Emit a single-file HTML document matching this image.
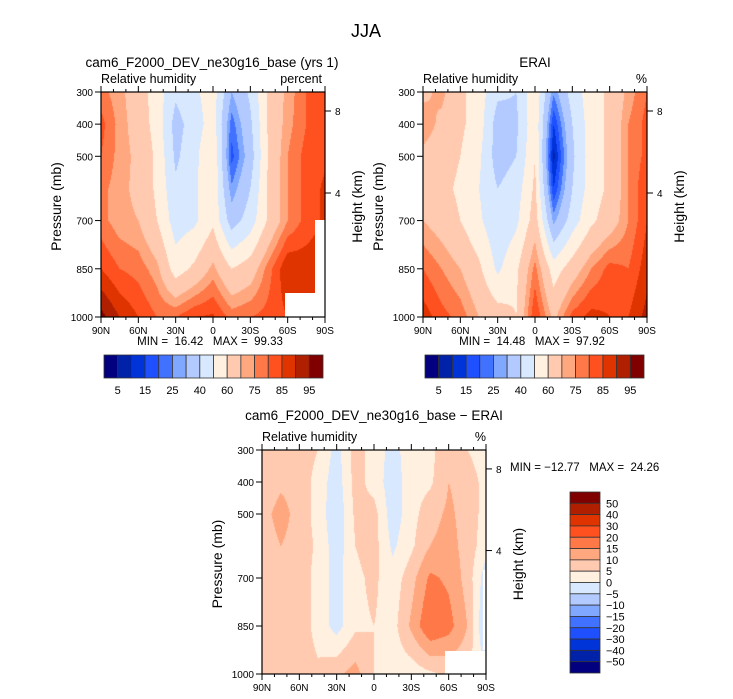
<!DOCTYPE html>
<html><head><meta charset="utf-8">
<style>
body{margin:0;background:#fff;}
#root{position:relative;width:733px;height:699px;overflow:hidden;font-family:"Liberation Sans",sans-serif;color:#000;}
svg text{font-family:"Liberation Sans",sans-serif;white-space:pre;}
</style></head>
<body>
<div id="root">
<svg id="svg" width="733" height="699" xmlns="http://www.w3.org/2000/svg">
<text x="366" y="37" font-size="18" text-anchor="middle">JJA</text>
</svg>
</div>
<script>
// ---- data ----
const latLabels = ["90N","60N","30N","0","30S","60S","90S"];
const pressureTicks = [300,400,500,700,850,1000];
const heightTicks = [8,4];
const gridPressures = [300,400,500,600,700,850,1000];
const rhLevels = [5,10,15,20,25,30,40,50,60,70,75,80,85,90,95];
const rhLabels = ["5","15","25","40","60","75","85","95"];
const diffLevels = [-50,-40,-30,-20,-15,-10,-5,0,5,10,15,20,30,40,50];
const diffLabels = ["50","40","30","20","15","10","5","0","\u22125","\u221210","\u221215","\u221220","\u221230","\u221240","\u221250"];
const modelRH = [
 [77,72,65,55,42,48,55,30,42,62,72,80,82],
 [82,73,66,56,36,45,55,22,38,62,73,80,82],
 [80,73,68,58,38,47,60,18,35,62,75,82,84],
 [77,72,68,58,42,48,58,26,40,62,75,82,86],
 [77,72,70,60,45,48,58,35,45,62,75,82,86],
 [85,80,78,72,55,62,72,60,65,78,90,88,88],
 [97,90,85,80,80,85,86,78,80,82,85,85,88]];
const eraRH = [
 [68,72,62,55,42,40,58,26,45,55,62,72,80],
 [74,68,62,55,35,38,58,15,40,55,62,75,82],
 [68,65,60,52,35,40,60,8,38,55,62,75,82],
 [66,63,58,50,40,45,62,15,40,55,62,75,85],
 [70,66,60,52,42,48,65,28,45,58,65,75,85],
 [80,75,70,62,48,58,77,55,65,75,82,80,88],
 [88,82,78,70,65,60,85,68,82,87,85,85,92]];
const diffRH = [
 [5,6,8,5,-2,7,3,-2,3,3,10,5,2],
 [6,9,8,3,-3,7,3,-3,3,4,10,8,3],
 [8,12,8,3,-4,6,7,-3,3,8,11,8,3],
 [7,10,8,4,-3,5,7,-1,4,10,12,8,2],
 [6,9,8,3,-2,4,6,2,8,16,14,8,-3],
 [8,9,8,3,-2,4,5,3,11,20,17,10,-6],
 [8,8,8,6,9,12,5,2,2,4,6,6,0]];
const palette = ["#02007e","#0022a8","#0034d8","#1e50ff","#4072ff","#80a8ff","#b2caff","#d8e8ff","#fff0e0","#ffcab0","#ffa880","#ff7848","#ff5020","#e03400","#b02000","#800000"];

const NS="http://www.w3.org/2000/svg";
const svg=document.getElementById('svg');
function mk(tag,attrs,parent){const e=document.createElementNS(NS,tag);for(const k in attrs)e.setAttribute(k,attrs[k]);(parent||svg).appendChild(e);return e;}
function txt(x,y,s,size,anchor,name,rot){const t=mk('text',{x:x,y:y,'font-size':size,'text-anchor':anchor||'start'});if(rot)t.setAttribute('transform','rotate(-90 '+x+' '+y+')');t.textContent=s;


return t;}

function interp(grid,latIdx,p){
  let r=0;while(r<gridPressures.length-2&&p>gridPressures[r+1])r++;
  const fy=(p-gridPressures[r])/(gridPressures[r+1]-gridPressures[r]);
  const c=Math.min(Math.floor(latIdx),11);const fx=latIdx-c;
  const a=grid[r][c],b=grid[r][c+1],d=grid[r+1][c],e=grid[r+1][c+1];
  return (a*(1-fx)+b*fx)*(1-fy)+(d*(1-fx)+e*fx)*fy;
}
function colorIdx(v,levels){let i=0;while(i<levels.length&&v>=levels[i])i++;return i;}

function panel(name,x0,y0,w,h,grid,levels,masks){
  const g=mk('g',{});
  
  
  const cv=document.createElement('canvas');cv.width=w;cv.height=h;const ctx=cv.getContext('2d');
  const img=ctx.createImageData(w,h);
  const rgb=palette.map(c=>[parseInt(c.substr(1,2),16),parseInt(c.substr(3,2),16),parseInt(c.substr(5,2),16)]);
  for(let j=0;j<h;j++){const p=300+700*(j+0.5)/h;
    for(let i=0;i<w;i++){const li=12*(i+0.5)/w;const v=interp(grid,li,p);const c=rgb[colorIdx(v,levels)];
      const k=(j*w+i)*4;img.data[k]=c[0];img.data[k+1]=c[1];img.data[k+2]=c[2];img.data[k+3]=255;}}
  ctx.putImageData(img,0,0);
  const fo=mk('foreignObject',{x:x0,y:y0,width:w,height:h},g);
  cv.style.display='block';fo.appendChild(cv);
  masks.forEach(m=>{const r=mk('rect',{x:x0+m[0],y:y0+m[1],width:m[2],height:m[3],fill:'#fff'},g);
    
    });
  mk('rect',{x:x0,y:y0,width:w,height:h,fill:'none',stroke:'#000','stroke-width':1.2},g);
  for(let k=0;k<=18;k++){const x=x0+w*k/18;const major=k%3==0;
    mk('line',{x1:x,y1:y0+h,x2:x,y2:y0+h+(major?6:3),stroke:'#000'},g);
    mk('line',{x1:x,y1:y0,x2:x,y2:y0-(major?6:3),stroke:'#000'},g);}
  latLabels.forEach((s,k)=>txt(x0+w*k/6,y0+h+17,s,10,'middle','x-tick-label'));
  pressureTicks.forEach(p=>{const y=y0+h*(p-300)/700;
    mk('line',{x1:x0,y1:y,x2:x0-6,y2:y,stroke:'#000'},g);
    txt(x0-8,y+4,String(p),10,'end','y-tick-label');});
  heightTicks.forEach((hk,i)=>{const y=y0+[19,101][i]*h/225;
    mk('line',{x1:x0+w,y1:y,x2:x0+w+6,y2:y,stroke:'#000'},g);
    txt(x0+w+10,y+4,String(hk),10,'start','height-tick-label');});
  txt(x0-40,y0+h/2+2,'Pressure (mb)',14,'middle','y-axis-title',true);
  txt(x0+w+37,y0+h/2+2,'Height (km)',14,'middle','height-axis-title',true);
}

function hbar(name,x0,y0,w,h){
  const g=mk('g',{});
  const bw=w/palette.length;
  palette.forEach((c,i)=>{const r=mk('rect',{x:x0+i*bw,y:y0,width:bw,height:h,fill:c,stroke:'#333','stroke-width':0.8},g);
    });
  rhLabels.forEach((s,i)=>txt(x0+bw*(2*i+1),y0+h+16,s,11,'middle','colorbar-label'));
}
function vbar(name,x0,y0,w,h){
  const g=mk('g',{});
  const bh=h/palette.length;
  palette.slice().reverse().forEach((c,i)=>{const r=mk('rect',{x:x0,y:y0+i*bh,width:w,height:bh,fill:c,stroke:'#333','stroke-width':0.8},g);
    });
  diffLabels.forEach((s,i)=>txt(x0+w+6,y0+bh*(i+1)+4,s,11,'start','colorbar-label'));
}

panel('model-panel',101,92,224,225,modelRH,rhLevels,[[184,201,40,24],[214,128,10,97]]);
panel('erai-panel',423,92,224,225,eraRH,rhLevels,[]);
panel('diff-panel',262,450,224,224,diffRH,diffLevels,[[183,201,41,23],[221,120,3,80]]);
hbar('model-colorbar',104,355,219,23);
hbar('erai-colorbar',425,355,219,23);
vbar('diff-colorbar',570,492,30,181);

txt(212,67,'cam6_F2000_DEV_ne30g16_base (yrs 1)',13.5,'middle','model-title');
txt(101,83,'Relative humidity',12.5,'start','model-variable-label');
txt(322,83,'percent',12.5,'end','model-units-label');
txt(535,67,'ERAI',13.5,'middle','erai-title');
txt(423,83,'Relative humidity',12.5,'start','erai-variable-label');
txt(647,83,'%',12.5,'end','erai-units-label');
txt(210,345,'MIN =  16.42   MAX =  99.33',11.5,'middle','model-min-max');
txt(532,345,'MIN =  14.48   MAX =  97.92',11.5,'middle','erai-min-max');
txt(374,420,'cam6_F2000_DEV_ne30g16_base \u2212 ERAI',13.5,'middle','diff-title');
txt(262,441,'Relative humidity',12.5,'start','diff-variable-label');
txt(486,441,'%',12.5,'end','diff-units-label');
txt(510,471,'MIN = \u221212.77   MAX =  24.26',11.5,'start','diff-min-max');
</script>
</body></html>
